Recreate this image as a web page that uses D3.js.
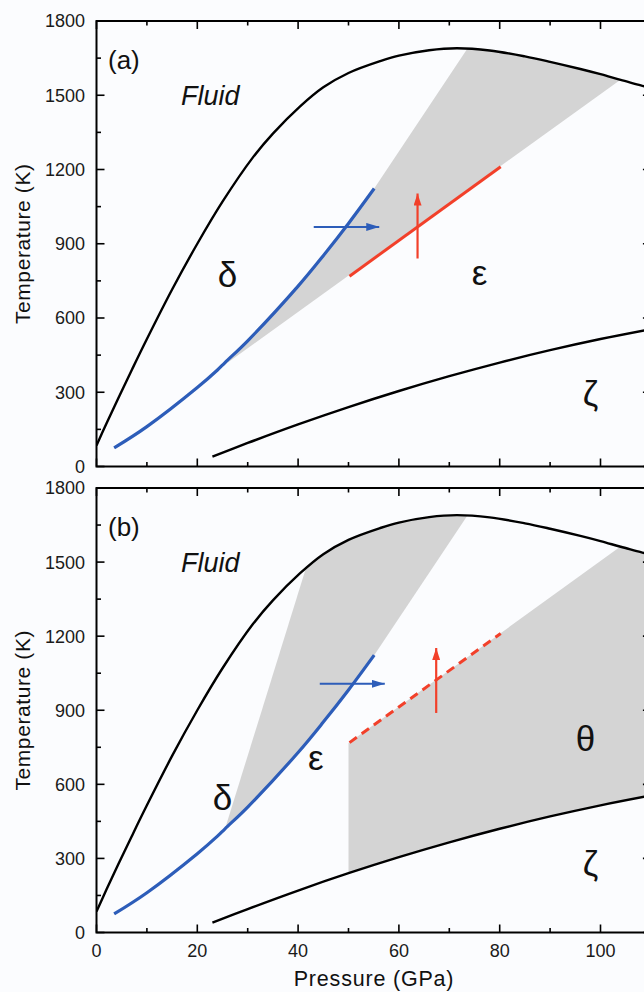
<!DOCTYPE html>
<html>
<head>
<meta charset="utf-8">
<script src="https://cdn.jsdelivr.net/npm/d3@7/dist/d3.min.js"></script>
<style>
  html, body { margin: 0; padding: 0; background: #fbfcfe; }
  svg { display: block; }
  text { font-family: "Liberation Sans", Arial, sans-serif; }
</style>
</head>
<body>
<svg id="chart" width="644" height="992"></svg>
<script>
// ---------------- data (pressure in GPa, temperature in K) ----------------
const pressureTicks = [0, 20, 40, 60, 80, 100];
const pressureMinorTicks = [10, 30, 50, 70, 90, 110];
const tempTicks = [0, 300, 600, 900, 1200, 1500, 1800];
const tempMinorTicks = [150, 450, 750, 1050, 1350, 1650];

// melting curve (solid / fluid)
const meltCurve = [[0,85],[2,175],[4.3,275],[7,390],[10,515],[15,715],[20,900],[25,1070],[31,1248],[35,1345],
  [40.4,1455],[45,1532],[50,1590],[56.3,1638],[60,1660],[66,1682],[71.5,1690],[78,1681],[85,1657],[90,1635],
  [96,1606],[100,1585],[104,1562],[108,1540],[110,1528]];
// epsilon / zeta boundary
const zetaCurve = [[23,40],[30,95],[40,170],[50,240],[60,305],[70,365],[80,420],[90,470],[100,515],[110,555]];
// delta / epsilon boundary (blue)
const blueCurve = [[3.5,75],[10,161],[20,319],[24,390],[25.5,420],[30,508],[40,729],[45,852],[50,982],[55.1,1123]];
// red boundary segment
const redLine = [[50.2,769],[80.2,1211]];
// arrows
const blueArrowA = [[43.1,968],[56.1,968]];
const blueArrowB = [[44.3,1007],[57.2,1007]];
const redArrowA = [[63.7,840],[63.7,1103]];
const redArrowB = [[67.4,889],[67.4,1152]];
// shaded-region corner points
const wedgeTop = [73.6,1689];
const wedgeApexA = [24,390];
const wedgeEndA = [103.9,1562];
const wedgeApexB = [25.5,420];
const wedgeMeltB = [41.5,1472];
const thetaCorner = [50,767];
const thetaMelt = [103.9,1562];
// labels
const panelLabels = ["(a)", "(b)"];
const phaseLabelsA = [["δ",26,725],["ε",76,733],["ζ",98,245]];
const phaseLabelsB = [["δ",25,495],["ε",43.5,660],["θ",97,733],["ζ",98,228]];

// ---------------- layout ----------------
const svg = d3.select("#chart");
const x = d3.scaleLinear().domain([0,110]).range([96.5, 650.9]);
const panels = [
  { y: d3.scaleLinear().domain([0,1800]).range([466.5, 21]), label: panelLabels[0], xlabels: false },
  { y: d3.scaleLinear().domain([0,1800]).range([932.5, 488]), label: panelLabels[1], xlabels: true }
];
const GREY = "#d4d4d4", BLUE = "#2d5db9", RED = "#f2402a";

const defs = svg.append("defs");
function marker(id, color, len, wid) {
  defs.append("marker").attr("id", id).attr("markerUnits","userSpaceOnUse")
    .attr("viewBox", `0 0 ${len} ${wid}`).attr("refX", len).attr("refY", wid/2)
    .attr("markerWidth", len).attr("markerHeight", wid).attr("orient","auto")
    .append("path").attr("d", `M0,0L${len},${wid/2}L0,${wid}Z`).attr("fill", color);
}
marker("ahBlue", BLUE, 13, 8);
marker("ahRed", RED, 12, 8);

function interpMelt(p) {
  for (let i = 1; i < meltCurve.length; i++) {
    const [p0,t0] = meltCurve[i-1], [p1,t1] = meltCurve[i];
    if (p <= p1) return t0 + (t1-t0)*(p-p0)/(p1-p0);
  }
  return meltCurve[meltCurve.length-1][1];
}
function meltBetween(a, b) {
  const pts = meltCurve.filter(d => d[0] > Math.min(a,b) && d[0] < Math.max(a,b));
  return a < b ? pts : pts.slice().reverse();
}

panels.forEach((pn, i) => {
  const y = pn.y;
  const g = svg.append("g");
  const clipId = "clip" + i;
  defs.append("clipPath").attr("id", clipId).append("rect")
    .attr("x", x(0)).attr("y", y(1800)).attr("width", x(110)-x(0)).attr("height", y(0)-y(1800));
  const plot = g.append("g").attr("clip-path", `url(#${clipId})`);
  const line = d3.line().x(d => x(d[0])).y(d => y(d[1]));
  const smooth = d3.line().x(d => x(d[0])).y(d => y(d[1])).curve(d3.curveCatmullRom.alpha(0.5));

  if (i === 0) {
    const poly = [wedgeApexA, ...blueCurve.filter(d => d[0] > wedgeApexA[0]), wedgeTop,
      ...meltBetween(wedgeTop[0], wedgeEndA[0]), wedgeEndA];
    plot.append("path").attr("d", line(poly) + "Z").attr("fill", GREY);
  } else {
    const poly = [wedgeApexB, ...blueCurve.filter(d => d[0] > wedgeApexB[0]), wedgeTop,
      ...meltBetween(wedgeTop[0], wedgeMeltB[0]), wedgeMeltB];
    plot.append("path").attr("d", line(poly) + "Z").attr("fill", GREY);
    const zAt50 = zetaCurve.find(d => d[0] === thetaCorner[0]);
    const theta = [zAt50, thetaCorner, thetaMelt, ...meltBetween(thetaMelt[0], 111), [110, interpMelt(110)],
      [110, zetaCurve[zetaCurve.length-1][1]], ...zetaCurve.filter(d => d[0] > 50 && d[0] < 110).reverse()];
    plot.append("path").attr("d", line(theta) + "Z").attr("fill", GREY);
  }

  plot.append("path").attr("d", smooth(meltCurve)).attr("fill","none").attr("stroke","#000").attr("stroke-width",2.4);
  plot.append("path").attr("d", smooth(zetaCurve)).attr("fill","none").attr("stroke","#000").attr("stroke-width",2.4);
  plot.append("path").attr("d", smooth(blueCurve)).attr("fill","none").attr("stroke",BLUE).attr("stroke-width",3.2);
  const red = plot.append("path").attr("d", line(redLine)).attr("fill","none").attr("stroke",RED).attr("stroke-width",3);
  if (i === 1) red.attr("stroke-dasharray","9,6");

  const ba = i === 0 ? blueArrowA : blueArrowB;
  const ra = i === 0 ? redArrowA : redArrowB;
  plot.append("path").attr("d", line(ba)).attr("stroke",BLUE).attr("stroke-width",2).attr("fill","none")
    .attr("marker-end","url(#ahBlue)");
  plot.append("path").attr("d", line(ra)).attr("stroke",RED).attr("stroke-width",2.2).attr("fill","none")
    .attr("marker-end","url(#ahRed)");

  g.append("rect").attr("x", x(0)).attr("y", y(1800)).attr("width", x(110)-x(0)).attr("height", y(0)-y(1800))
    .attr("fill","none").attr("stroke","#000").attr("stroke-width",2);

  const tk = g.append("g").attr("stroke","#000").attr("stroke-width",1.6);
  const maj = 8, mnr = 4.5;
  pressureTicks.concat(pressureMinorTicks).forEach(p => {
    const L = pressureTicks.includes(p) ? maj : mnr;
    tk.append("line").attr("x1",x(p)).attr("x2",x(p)).attr("y1",y(0)).attr("y2",y(0)-L);
    tk.append("line").attr("x1",x(p)).attr("x2",x(p)).attr("y1",y(1800)).attr("y2",y(1800)+L);
  });
  tempTicks.concat(tempMinorTicks).forEach(t => {
    const L = tempTicks.includes(t) ? maj : mnr;
    tk.append("line").attr("x1",x(0)).attr("x2",x(0)+L).attr("y1",y(t)).attr("y2",y(t));
    tk.append("line").attr("x1",x(110)).attr("x2",x(110)-L).attr("y1",y(t)).attr("y2",y(t));
  });

  g.selectAll(".yl").data(tempTicks).enter().append("text")
    .attr("x", 85).attr("y", d => y(d)).attr("dy","0.36em").attr("text-anchor","end")
    .attr("font-size", 18).attr("fill","#1a1a1a").text(d => d);
  if (pn.xlabels) {
    g.selectAll(".xl").data(pressureTicks).enter().append("text")
      .attr("x", d => x(d)).attr("y", 957).attr("text-anchor","middle")
      .attr("font-size", 18).attr("fill","#1a1a1a").text(d => d);
  }
  const yc = (y(0)+y(1800))/2;
  g.append("text").attr("transform", `translate(30,${yc}) rotate(-90)`).attr("text-anchor","middle")
    .attr("font-size", 21).attr("letter-spacing", 0.6).attr("fill","#111").text("Temperature (K)");

  g.append("text").attr("x", 108).attr("y", y(1800)+48).attr("font-size", 26).attr("fill","#111").text(pn.label);
  g.append("text").attr("x", 181).attr("y", y(1800)+84).attr("font-size", 27).attr("font-style","italic")
    .attr("fill","#111").text("Fluid");

  const pl = i === 0 ? phaseLabelsA : phaseLabelsB;
  g.selectAll(".ph").data(pl).enter().append("text")
    .attr("x", d => x(d[1])).attr("y", d => y(d[2])).attr("text-anchor","middle")
    .attr("font-family","'Liberation Serif', 'Times New Roman', serif").attr("font-size", 35).attr("fill","#111")
    .text(d => d[0]);
});

svg.append("text").attr("x", 374).attr("y", 986).attr("text-anchor","middle").attr("font-size", 21.5)
  .attr("letter-spacing", 0.8).attr("fill","#111").text("Pressure (GPa)");
</script>
</body>
</html>
